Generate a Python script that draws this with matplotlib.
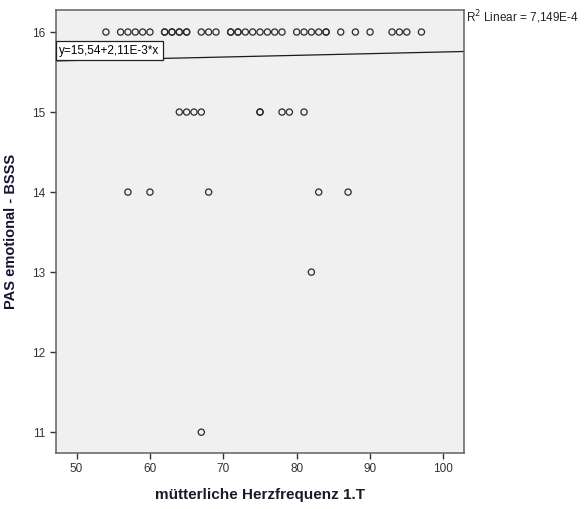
import matplotlib.pyplot as plt
import numpy as np

plt.rcParams['font.family'] = ['Liberation Sans', 'DejaVu Sans']

# maternal heart rate (x) and PAS emotional score (y), one list per score level
hr_16 = [54, 56, 57, 58, 59, 60, 62, 62, 63, 63, 64, 64, 65, 65, 67, 68, 69,
         71, 71, 72, 72, 73, 74, 75, 76, 77, 78, 80, 81, 82, 83, 84, 84,
         86, 88, 90, 93, 94, 95, 97]
hr_15 = [64, 65, 66, 67, 75, 75, 78, 79, 81]
hr_14 = [57, 60, 68, 83, 87]
hr_13 = [82]
hr_11 = [67]

# fit line as printed in the chart
intercept = 15.54
slope = 2.11e-3
fit_label = "y=15,54+2,11E-3*x"
r2_label = "R$^2$ Linear = 7,149E-4"

x_ticks = [50, 60, 70, 80, 90, 100]
y_ticks = [11, 12, 13, 14, 15, 16]

x = np.array(hr_16 + hr_15 + hr_14 + hr_13 + hr_11)
y = np.array([16]*len(hr_16) + [15]*len(hr_15) + [14]*len(hr_14)
             + [13]*len(hr_13) + [11]*len(hr_11))

fig = plt.figure(figsize=(5.86, 5.09), dpi=100)
ax = fig.add_axes([0.0956, 0.110, 0.6962, 0.8703])
ax.set_facecolor('#f0f0f0')

ax.scatter(x, y, s=20, facecolors='none', edgecolors='#2b2b2b', linewidths=0.9, zorder=3)

xmin, xmax = 47.2, 102.8
xl = np.array([xmin, xmax])
ax.plot(xl, intercept + slope*xl, color='#1a1a1a', lw=0.9, zorder=2)

ax.set_xlim(xmin, xmax)
ax.set_ylim(10.74, 16.275)
ax.set_xticks(x_ticks)
ax.set_yticks(y_ticks)
ax.tick_params(labelsize=8.5, colors='#333333', length=4, width=1, direction='out')

for s in ax.spines.values():
    s.set_color('#606060')
    s.set_linewidth(1.1)

ax.text(0.008, 0.9086, fit_label, transform=ax.transAxes, fontsize=8.5, ha='left', va='center',
        bbox=dict(boxstyle='square,pad=0.3', facecolor='white', edgecolor='#222222', lw=0.9),
        zorder=4)
fig.text(466/586, 1 - 17/509, r2_label, fontsize=8.5, ha='left', va='center', color='#222222')

ax.set_xlabel("mütterliche Herzfrequenz 1.T", fontsize=11, fontweight='bold', color='#1a1a2a', labelpad=9)
ax.set_ylabel("PAS emotional - BSSS", fontsize=10.5, fontweight='bold', color='#141432', labelpad=10)

fig.savefig("out.png", dpi=100)
